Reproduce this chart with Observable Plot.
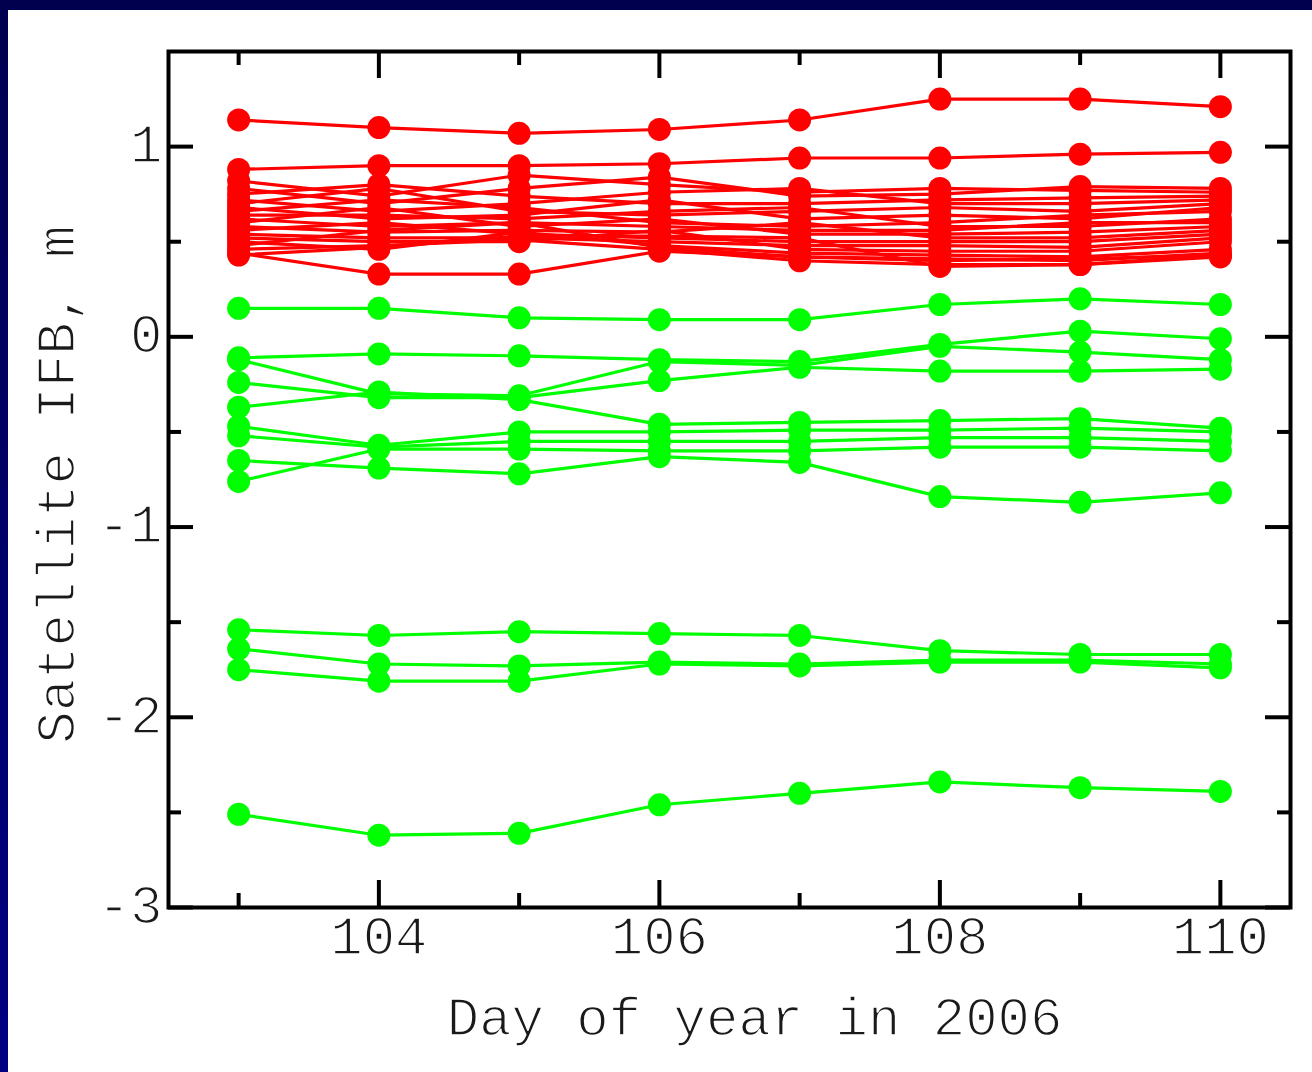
<!DOCTYPE html>
<html>
<head>
<meta charset="utf-8">
<script src="https://cdn.jsdelivr.net/npm/d3@7"></script>
<script src="https://cdn.jsdelivr.net/npm/@observablehq/plot@0.6"></script>
<style>
  html, body { margin: 0; padding: 0; background: #fff; }
  #page { position: relative; width: 1312px; height: 1072px; overflow: hidden; background: #fff; }
  #topbar { position: absolute; left: 0; top: 0; width: 1312px; height: 10px; background: #00004f; }
  #leftbar { position: absolute; left: 0; top: 0; width: 8px; height: 1072px; background: linear-gradient(#00004f, #000082); }
  #chart { position: absolute; left: 8px; top: 10px; }
</style>
</head>
<body>
<div id="page">
  <div id="topbar"></div>
  <div id="leftbar"></div>
  <div id="chart"></div>
</div>
<script>
// Days of year 2006 on which the inter-frequency biases were estimated
const days = [103, 104, 105, 106, 107, 108, 109, 110];

// Satellite IFB (m), first group of satellites (red), one row per satellite
const redIFB = [
  [1.14, 1.10, 1.07, 1.09, 1.14, 1.25, 1.25, 1.21],
  [0.88, 0.90, 0.90, 0.91, 0.94, 0.94, 0.96, 0.97],
  [0.82, 0.74, 0.85, 0.80, 0.76, 0.78, 0.77, 0.76],
  [0.78, 0.70, 0.78, 0.84, 0.74, 0.75, 0.79, 0.78],
  [0.75, 0.80, 0.74, 0.70, 0.70, 0.72, 0.73, 0.74],
  [0.72, 0.66, 0.70, 0.76, 0.78, 0.70, 0.70, 0.72],
  [0.70, 0.78, 0.66, 0.64, 0.66, 0.68, 0.66, 0.70],
  [0.68, 0.62, 0.64, 0.72, 0.62, 0.64, 0.62, 0.68],
  [0.66, 0.72, 0.68, 0.60, 0.58, 0.60, 0.64, 0.66],
  [0.64, 0.64, 0.62, 0.66, 0.68, 0.58, 0.58, 0.62],
  [0.62, 0.58, 0.60, 0.58, 0.56, 0.56, 0.60, 0.60],
  [0.60, 0.68, 0.58, 0.62, 0.54, 0.54, 0.55, 0.58],
  [0.58, 0.55, 0.56, 0.55, 0.60, 0.52, 0.52, 0.56],
  [0.56, 0.60, 0.54, 0.52, 0.50, 0.50, 0.50, 0.54],
  [0.54, 0.52, 0.52, 0.50, 0.48, 0.48, 0.47, 0.52],
  [0.52, 0.50, 0.50, 0.56, 0.46, 0.45, 0.45, 0.50],
  [0.50, 0.46, 0.55, 0.48, 0.44, 0.43, 0.42, 0.46],
  [0.48, 0.56, 0.60, 0.47, 0.42, 0.41, 0.40, 0.44],
  [0.46, 0.48, 0.51, 0.46, 0.40, 0.38, 0.38, 0.42],
  [0.43, 0.47, 0.53, 0.53, 0.52, 0.37, 0.38, 0.43],
  [0.44, 0.33, 0.33, 0.45, 0.42, 0.40, 0.41, 0.43]
];

// Satellite IFB (m), second group of satellites (green)
const greenIFB = [
  [0.15, 0.15, 0.10, 0.09, 0.09, 0.17, 0.20, 0.17],
  [-0.11, -0.09, -0.10, -0.12, -0.13, -0.04, 0.03, -0.01],
  [-0.12, -0.30, -0.31, -0.13, -0.15, -0.05, -0.08, -0.12],
  [-0.24, -0.32, -0.32, -0.23, -0.16, -0.18, -0.18, -0.17],
  [-0.37, -0.29, -0.33, -0.46, -0.45, -0.44, -0.43, -0.48],
  [-0.47, -0.57, -0.50, -0.50, -0.49, -0.49, -0.48, -0.50],
  [-0.52, -0.58, -0.55, -0.55, -0.55, -0.53, -0.53, -0.55],
  [-0.65, -0.69, -0.72, -0.63, -0.66, -0.84, -0.87, -0.82],
  [-0.76, -0.59, -0.59, -0.60, -0.60, -0.58, -0.58, -0.60],
  [-1.54, -1.57, -1.55, -1.56, -1.57, -1.65, -1.67, -1.67],
  [-1.64, -1.72, -1.73, -1.71, -1.72, -1.70, -1.70, -1.72],
  [-1.75, -1.81, -1.81, -1.72, -1.73, -1.71, -1.71, -1.74],
  [-2.51, -2.62, -2.61, -2.46, -2.40, -2.34, -2.37, -2.39]
];

// Axis ticks
const xMajorTicks = [104, 106, 108, 110];
const xMinorTicks = [103, 105, 107, 109];
const yMajorTicks = [-3, -2, -1, 0, 1];
const yMinorTicks = [-2.5, -1.5, -0.5, 0.5];

const xTitle = "Day of year in 2006";
const yTitle = "Satellite IFB, m";

// Long-format rows for the line and dot marks
const toRows = (series, group) =>
  series.flatMap((vals, s) => vals.map((v, i) => ({day: days[i], ifb: v, sat: group + s})));
const redRows = toRows(redIFB, "R");
const greenRows = toRows(greenIFB, "G");

const W = 1304, H = 1062;
const mL = 160, mR = 22, mT = 41, mB = 165;
const innerW = W - mL - mR;
const innerH = H - mT - mB;
const font = "'Liberation Mono', 'Courier New', monospace";
const fs = 54;
const majorLen = 27, minorLen = 14;
const yMajorLen = 25, yMinorLen = 13;
const tickW = 4;

// thin, typewriter-like lettering: a white outline painted over the fill
const textStyle = {fontSize: fs, fontFamily: font, fill: "#1a1a1a", stroke: "#fff", strokeWidth: 1.6, paintOrder: "fill"};

const fmt = d => (d < 0 ? "-" + Math.abs(d) : String(d));

const chart = Plot.plot({
  width: W,
  height: H,
  marginLeft: mL,
  marginRight: mR,
  marginTop: mT,
  marginBottom: mB,
  x: {domain: [102.5, 110.5], axis: null},
  y: {domain: [-3, 1.5], axis: null},
  style: {background: "transparent", fontFamily: font, color: "#000"},
  marks: [
    // green group
    Plot.line(greenRows, {x: "day", y: "ifb", z: "sat", stroke: "#00ff00", strokeWidth: 3.2, curve: "linear"}),
    Plot.dot(greenRows, {x: "day", y: "ifb", r: 11.5, fill: "#00ff00", stroke: "none"}),
    // red group
    Plot.line(redRows, {x: "day", y: "ifb", z: "sat", stroke: "#ff0000", strokeWidth: 3.2, curve: "linear"}),
    Plot.dot(redRows, {x: "day", y: "ifb", r: 11.5, fill: "#ff0000", stroke: "none"}),

    // inward ticks, bottom and top
    Plot.tickX(xMajorTicks, {x: d => d, insetTop: innerH - majorLen, stroke: "#000", strokeWidth: tickW}),
    Plot.tickX(xMajorTicks, {x: d => d, insetBottom: innerH - majorLen, stroke: "#000", strokeWidth: tickW}),
    Plot.tickX(xMinorTicks, {x: d => d, insetTop: innerH - minorLen, stroke: "#000", strokeWidth: tickW}),
    Plot.tickX(xMinorTicks, {x: d => d, insetBottom: innerH - minorLen, stroke: "#000", strokeWidth: tickW}),
    // inward ticks, left and right
    Plot.tickY(yMajorTicks, {y: d => d, insetRight: innerW - yMajorLen, stroke: "#000", strokeWidth: tickW}),
    Plot.tickY(yMajorTicks, {y: d => d, insetLeft: innerW - yMajorLen, stroke: "#000", strokeWidth: tickW}),
    Plot.tickY(yMinorTicks, {y: d => d, insetRight: innerW - yMinorLen, stroke: "#000", strokeWidth: tickW}),
    Plot.tickY(yMinorTicks, {y: d => d, insetLeft: innerW - yMinorLen, stroke: "#000", strokeWidth: tickW}),

    Plot.frame({stroke: "#000", strokeWidth: 4}),

    // tick labels
    Plot.text(xMajorTicks, {x: d => d, text: fmt, frameAnchor: "bottom", lineAnchor: "top", textAnchor: "middle", dy: 8, ...textStyle}),
    Plot.text(yMajorTicks, {y: d => d, text: fmt, frameAnchor: "left", lineAnchor: "middle", textAnchor: "end", dx: -6, dy: -2, ...textStyle}),

    // axis titles
    Plot.text([xTitle], {text: d => d, frameAnchor: "bottom", dx: 25, dy: 127, ...textStyle, textAnchor: "middle"}),
    Plot.text([yTitle], {text: d => d, frameAnchor: "left", rotate: -90, dx: -112, dy: 5, ...textStyle, textAnchor: "middle"})
  ]
});

document.getElementById("chart").appendChild(chart);
</script>
</body>
</html>
